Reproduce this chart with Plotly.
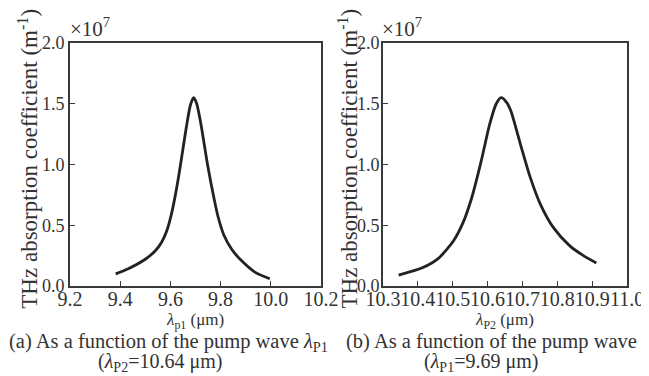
import plotly.graph_objects as go
from plotly.subplots import make_subplots

# Panel (a): absorption vs pump wavelength lambda_P1 (lambda_P2 = 10.64 um)
lam_p1 = [9.382, 9.43, 9.50, 9.54, 9.565, 9.585, 9.604, 9.62, 9.636, 9.663, 9.68, 9.693, 9.705,
          9.722, 9.748, 9.774, 9.79, 9.813, 9.845, 9.878, 9.94, 9.996]
alpha_a = [0.10, 0.14, 0.22, 0.29, 0.36, 0.45, 0.59, 0.75, 0.94, 1.30, 1.49, 1.55, 1.50,
           1.33, 1.00, 0.72, 0.57, 0.42, 0.30, 0.22, 0.11, 0.06]   # x 1e7 m^-1

# Panel (b): absorption vs pump wavelength lambda_P2 (lambda_P1 = 9.69 um)
lam_p2 = [10.345, 10.413, 10.460, 10.502, 10.531, 10.554, 10.582, 10.606, 10.625,
          10.639, 10.655, 10.667, 10.695, 10.723, 10.752, 10.789, 10.836, 10.875, 10.912]
alpha_b = [0.09, 0.15, 0.23, 0.37, 0.53, 0.72, 1.03, 1.33, 1.50,
           1.55, 1.51, 1.44, 1.16, 0.89, 0.67, 0.48, 0.33, 0.25, 0.19]  # x 1e7 m^-1

xticks_a = [9.2, 9.4, 9.6, 9.8, 10.0, 10.2]
xticks_b = [10.3, 10.4, 10.5, 10.6, 10.7, 10.8, 10.9, 11.0]
yticks = [0.0, 0.5, 1.0, 1.5, 2.0]

W, H = 649, 376
ML, MR, MT, MB = 62, 21, 35, 98
PW, PH = W - ML - MR, H - MT - MB

def px(x):
    return (x - ML) / PW

def py(y):
    return (H - MB - y) / PH

FONT = "Liberation Serif"
TXT = "#333333"
LINE = "#3a3a3a"

fig = make_subplots(rows=1, cols=2)
fig.add_trace(go.Scatter(x=lam_p1, y=alpha_a, mode="lines",
                         line=dict(color="#222222", width=2.8, shape="spline", smoothing=0.7),
                         showlegend=False), row=1, col=1)
fig.add_trace(go.Scatter(x=lam_p2, y=alpha_b, mode="lines",
                         line=dict(color="#222222", width=2.8, shape="spline", smoothing=0.7),
                         showlegend=False), row=1, col=2)

axis_common = dict(showline=True, linecolor=LINE, linewidth=1.8, mirror=True,
                   ticks="inside", ticklen=5, tickcolor=LINE, tickwidth=1.3,
                   showgrid=False, zeroline=False)

fig.update_xaxes(**axis_common, tickangle=0, ticklabelstandoff=-6,
                 tickfont=dict(family=FONT, size=20, color=TXT))
fig.update_yaxes(**axis_common, tickfont=dict(family=FONT, size=18, color=TXT))

fig.update_layout(
    xaxis=dict(domain=[0, px(317)], range=[9.2, 10.2], tickvals=xticks_a,
               ticktext=[f"{v:.1f}" for v in xticks_a]),
    xaxis2=dict(domain=[px(380), 1], range=[10.3, 11.0], tickvals=xticks_b,
                ticktext=[f"{v:.1f}" for v in xticks_b]),
    yaxis=dict(range=[0, 2.0], tickvals=yticks, ticktext=[f"{v:.1f}" for v in yticks]),
    yaxis2=dict(range=[0, 2.0], tickvals=yticks, ticktext=[f"{v:.1f}" for v in yticks],
                ticklabelstandoff=-2),
)

ann = []
def add(text, x, y, size=18, angle=0, xanchor="center"):
    ann.append(dict(text=text, x=px(x), y=py(y), xref="paper", yref="paper",
                    showarrow=False, textangle=angle, xanchor=xanchor, yanchor="middle",
                    font=dict(family=FONT, size=size, color=TXT)))

ytitle = "THz absorption coefficient (m<sup>-1</sup>)"
add(ytitle, 19, 151, size=23, angle=-90)
add(ytitle, 344, 151, size=23, angle=-90)
add("×10<sup>7</sup>", 60, 20, size=21, xanchor="left")
add("×10<sup>7</sup>", 377, 20, size=21, xanchor="left")
add("<i>λ</i><sub>p1</sub> (μm)", 189, 313, size=17)
add("<i>λ</i><sub>P2</sub> (μm)", 504, 313, size=17)
add("(a) As a function of the pump wave <i>λ</i><sub>P1</sub>", -2, 334, size=20.5, xanchor="left")
add("(<i>λ</i><sub>P2</sub>=10.64 μm)", 153, 354, size=20)
add("(b) As a function of the pump wave <i>λ</i><sub>P2</sub>", 340, 334, size=20.5, xanchor="left")
add("(<i>λ</i><sub>P1</sub>=9.69 μm)", 480, 354, size=20)

fig.update_layout(
    width=W, height=H,
    margin=dict(l=ML, r=MR, t=MT, b=MB),
    paper_bgcolor="white", plot_bgcolor="white",
    annotations=ann,
    font=dict(family=FONT, color=TXT),
)

fig.write_html("out.html")
